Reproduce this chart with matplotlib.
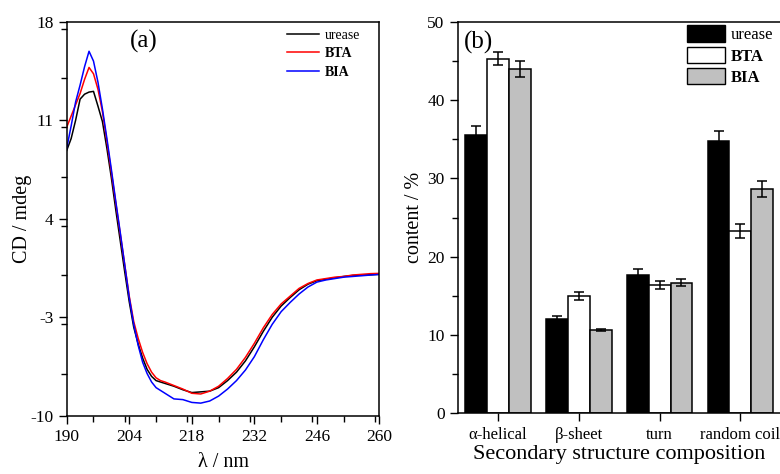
import numpy as np
import matplotlib
matplotlib.use("Agg")
import matplotlib.pyplot as plt
from matplotlib.ticker import MultipleLocator
from matplotlib.patches import Patch

plt.rcParams["font.family"] = ["Liberation Serif", "DejaVu Serif"]
plt.rcParams["axes.unicode_minus"] = False

# ---- panel (a): CD spectra ----
wavelength = [190, 191, 192, 193, 194, 195, 196, 197, 198, 199, 200, 201, 202, 203,
              204, 205, 206, 207, 208, 209, 210, 211, 212, 214, 216, 218, 220, 222,
              224, 226, 228, 230, 232, 234, 236, 238, 240, 242, 244, 246, 248, 250,
              252, 254, 256, 258, 260]
cd_urease = [8.85, 9.7, 11.0, 12.5, 12.85, 13.0, 13.05, 12.0, 10.9, 9.0, 6.9, 4.6, 2.4, 0.2,
             -1.9, -3.7, -4.9, -5.9, -6.7, -7.2, -7.5, -7.6, -7.7, -7.9, -8.15, -8.35, -8.3, -8.25,
             -8.0, -7.5, -6.9, -6.1, -5.1, -4.0, -3.0, -2.2, -1.6, -1.05, -0.65, -0.4, -0.3, -0.2,
             -0.1, -0.03, 0.0, 0.02, 0.05]
cd_bta = [10.5, 11.3, 12.1, 12.9, 13.9, 14.75, 14.3, 13.2, 11.6, 9.5, 7.3, 5.1, 2.9, 0.7,
          -1.5, -3.3, -4.5, -5.5, -6.3, -6.9, -7.3, -7.5, -7.6, -7.85, -8.1, -8.4, -8.45, -8.25,
          -7.9, -7.35, -6.7, -5.85, -4.85, -3.75, -2.8, -2.05, -1.5, -0.95, -0.6, -0.35, -0.25, -0.15,
          -0.1, 0.0, 0.05, 0.1, 0.12]
cd_bia = [9.0, 10.6, 12.3, 13.5, 14.8, 15.9, 15.2, 13.7, 11.8, 9.7, 7.5, 5.2, 3.0, 0.7,
          -1.6, -3.5, -5.0, -6.2, -7.0, -7.6, -8.0, -8.2, -8.4, -8.8, -8.85, -9.05, -9.1, -8.95,
          -8.6, -8.1, -7.5, -6.75, -5.8, -4.6, -3.5, -2.6, -1.95, -1.35, -0.85, -0.5, -0.35, -0.25,
          -0.15, -0.1, -0.05, 0.0, 0.05]

# ---- panel (b): secondary structure ----
structures = ["α-helical", "β-sheet", "turn", "random coil"]
urease_pct = [35.5, 12.0, 17.7, 34.8]
urease_err = [1.2, 0.4, 0.7, 1.2]
bta_pct = [45.3, 15.0, 16.4, 23.3]
bta_err = [0.8, 0.5, 0.5, 0.9]
bia_pct = [44.0, 10.6, 16.7, 28.6]
bia_err = [1.0, 0.15, 0.4, 1.0]

fig = plt.figure(figsize=(7.8, 4.74), dpi=100)

ax1 = fig.add_axes([0.0855, 0.1228, 0.401, 0.8314])
ax1.plot(wavelength, cd_urease, color="black", lw=1.1, label="urease")
ax1.plot(wavelength, cd_bta, color="red", lw=1.1, label="BTA")
ax1.plot(wavelength, cd_bia, color="blue", lw=1.1, label="BIA")
ax1.set_xlim(190, 260)
ax1.set_ylim(-10, 18)
ax1.set_xticks([190, 204, 218, 232, 246, 260])
ax1.set_yticks([-10, -3, 4, 11, 18])
ax1.xaxis.set_minor_locator(MultipleLocator(7))
ax1.yaxis.set_minor_locator(MultipleLocator(3.5))
ax1.set_xlabel("λ / nm", fontsize=14.5, labelpad=6)
ax1.set_ylabel("CD / mdeg", fontsize=14.5, labelpad=-1)
ax1.text(0.247, 0.949, "(a)", transform=ax1.transAxes, fontsize=18, ha="center", va="center")
leg1 = ax1.legend(loc="upper right", bbox_to_anchor=(0.96, 1.0), frameon=False, fontsize=10,
                  handlelength=2.3, handletextpad=0.4, labelspacing=0.4, borderaxespad=0.1)
for t in leg1.get_texts()[1:]:
    t.set_fontweight("bold")

ax2 = fig.add_axes([0.5868, 0.128, 0.4142, 0.8262])
x = np.arange(len(structures))
w = 0.27
err_kw = dict(ecolor="black", elinewidth=1.1, capsize=3.3, capthick=1.1)
ax2.bar(x - w, urease_pct, w, yerr=urease_err, color="black", edgecolor="black", lw=1.1,
        error_kw=err_kw, label="urease")
ax2.bar(x, bta_pct, w, yerr=bta_err, color="white", edgecolor="black", lw=1.1,
        error_kw=err_kw, label="BTA")
ax2.bar(x + w, bia_pct, w, yerr=bia_err, color="#c0c0c0", edgecolor="black", lw=1.1,
        error_kw=err_kw, label="BIA")
ax2.set_xlim(-0.5, 3.5)
ax2.set_ylim(0, 50)
ax2.set_xticks(x)
ax2.set_xticklabels(structures, fontsize=12)
ax2.yaxis.set_minor_locator(MultipleLocator(5))
ax2.set_xlabel("Secondary structure composition", fontsize=16, labelpad=2)
ax2.set_ylabel("content / %", fontsize=14.5, labelpad=2)
ax2.text(0.063, 0.947, "(b)", transform=ax2.transAxes, fontsize=18, ha="center", va="center")
handles = [Patch(facecolor="black", edgecolor="black"),
           Patch(facecolor="white", edgecolor="black"),
           Patch(facecolor="#c0c0c0", edgecolor="black")]
leg2 = ax2.legend(handles, ["urease", "BTA", "BIA"], loc="upper right",
                  bbox_to_anchor=(0.981, 0.995), frameon=False, fontsize=12,
                  handlelength=2.3, handleheight=1.15, handletextpad=0.3,
                  labelspacing=0.2, borderpad=0.1, borderaxespad=0.0)
for t in leg2.get_texts()[1:]:
    t.set_fontweight("bold")

for ax in (ax1, ax2):
    for s in ax.spines.values():
        s.set_linewidth(1.1)
    ax.tick_params(which="major", direction="out", length=6, width=1.0, labelsize=12.5,
                   top=False, right=False)
    ax.tick_params(which="minor", direction="out", length=4, width=1.0,
                   top=False, right=False)
ax2.tick_params(axis="x", which="major", labelsize=12)
ax2.tick_params(axis="x", which="minor", bottom=False)

fig.savefig("out.png", dpi=100)
